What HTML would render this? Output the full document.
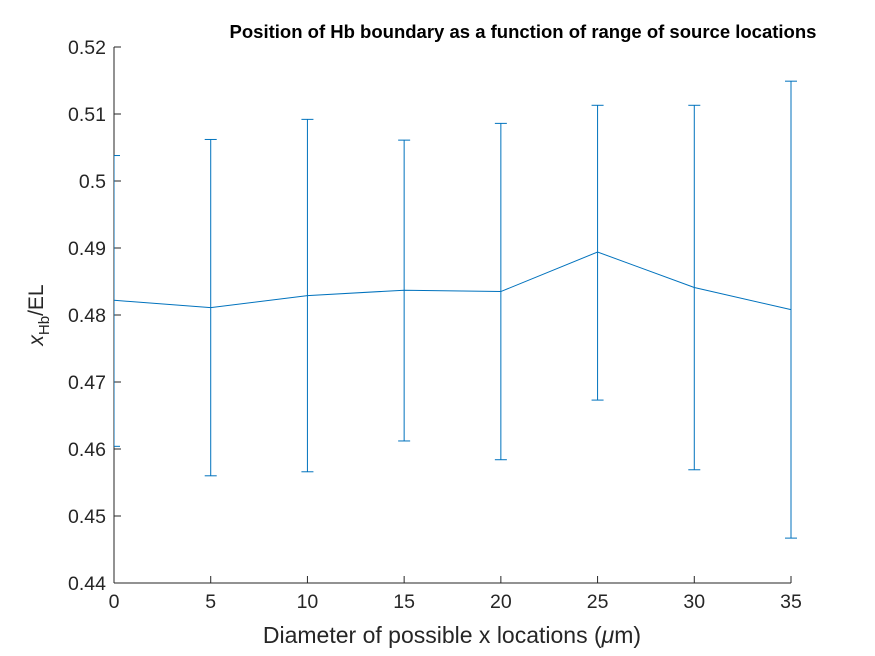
<!DOCTYPE html>
<html><head><meta charset="utf-8"><style>
body{margin:0;background:#fff;}
svg{display:block;font-family:"Liberation Sans",Arial,sans-serif;}
</style></head><body>
<svg id="chart" width="875" height="656" viewBox="0 0 875 656">
<defs><clipPath id="pc"><rect x="114" y="40" width="690" height="544"/></clipPath></defs>
<rect width="875" height="656" fill="#fff"/>
<text x="523" y="38" text-anchor="middle" font-size="18.5" font-weight="bold" fill="#000">Position of Hb boundary as a function of range of source locations</text>
<g id="axes"></g>
<g id="series" clip-path="url(#pc)"></g>
<text x="452" y="643" text-anchor="middle" font-size="23" fill="#262626">Diameter of possible x locations (<tspan font-style="italic">μ</tspan>m)</text>
<text transform="translate(43,315) rotate(-90)" text-anchor="middle" font-size="21" fill="#262626"><tspan font-style="italic">x</tspan><tspan font-size="15" dy="6">Hb</tspan><tspan dy="-6">/EL</tspan></text>
</svg>
<script>
const xs=[0,5,10,15,20,25,30,35];
const means=[0.4822,0.4811,0.4829,0.4837,0.4835,0.4894,0.4841,0.4808];
const uppers=[0.5038,0.5062,0.5092,0.5061,0.5086,0.5113,0.5113,0.5149];
const lowers=[0.4604,0.4560,0.4566,0.4612,0.4584,0.4673,0.4569,0.4467];
const xTicks=[0,5,10,15,20,25,30,35];
const yTicks=[0.44,0.45,0.46,0.47,0.48,0.49,0.5,0.51,0.52];
const yTickLabels=['0.44','0.45','0.46','0.47','0.48','0.49','0.5','0.51','0.52'];
const L=114,R=791,T=47,B=583;
const sx=v=>L+(v-0)/(35-0)*(R-L);
const sy=v=>B-(v-0.44)/(0.52-0.44)*(B-T);
const NS='http://www.w3.org/2000/svg';
function mk(tag,attrs,parent){const e=document.createElementNS(NS,tag);for(const k in attrs)e.setAttribute(k,attrs[k]);parent.appendChild(e);return e;}
const ax=document.getElementById('axes'),se=document.getElementById('series');
let e=mk('line',{x1:L,y1:B,x2:R,y2:B,stroke:'#262626','stroke-width':1},ax);


e=mk('line',{x1:L,y1:T,x2:L,y2:B,stroke:'#262626','stroke-width':1},ax);


xTicks.forEach(t=>{const x=sx(t);
 mk('line',{x1:x,y1:B,x2:x,y2:B-7,stroke:'#262626'},ax);
 const tx=mk('text',{x:x,y:B+25,'text-anchor':'middle','font-size':19.5,fill:'#262626'},ax);tx.textContent=t;
 
 
});
yTicks.forEach((t,i)=>{const y=sy(t);
 mk('line',{x1:L,y1:y,x2:L+7,y2:y,stroke:'#262626'},ax);
 const tx=mk('text',{x:L-8,y:y+7,'text-anchor':'end','font-size':19.5,fill:'#262626'},ax);tx.textContent=yTickLabels[i];
 
 
});
const col='#0072BD';
const pl=mk('polyline',{points:xs.map((x,i)=>sx(x)+','+sy(means[i])).join(' '),fill:'none',stroke:col,'stroke-width':1},se);


xs.forEach((x,i)=>{const px=sx(x),yu=sy(uppers[i]),yl=sy(lowers[i]);
 const g=mk('g',{stroke:col,'stroke-width':1},se);
 
 
 mk('line',{x1:px,y1:yu,x2:px,y2:yl},g);
 mk('line',{x1:px-6,y1:yu,x2:px+6,y2:yu},g);
 mk('line',{x1:px-6,y1:yl,x2:px+6,y2:yl},g);
});
</script>
</body></html>
